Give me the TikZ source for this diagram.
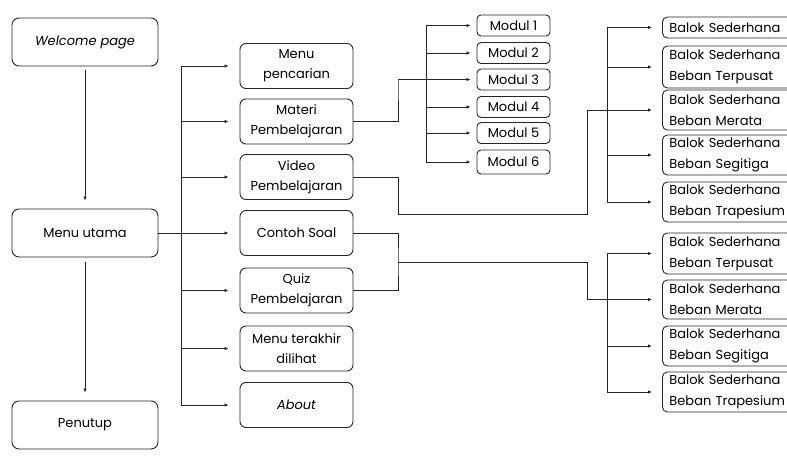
\documentclass[tikz,border=0pt]{standalone}
\usepackage{fontspec}
\setmainfont{Poppins}
\usetikzlibrary{arrows.meta,calc}
\begin{document}
\begin{tikzpicture}[x=1pt,y=-1pt,
  ln/.style={draw=black!85, line width=0.9pt},
  arr/.style={ln, -{Latex[length=4pt,width=3.5pt]}},
  bigbox/.style={ln, rounded corners=7pt, minimum width=146pt, minimum height=48pt, inner sep=0pt, align=center, font=\fontsize{13}{20}\selectfont},
  midbox/.style={ln, rounded corners=6pt, minimum width=113pt, minimum height=45pt, inner sep=0pt, align=center, font=\fontsize{13}{20}\selectfont},
  modbox/.style={ln, rounded corners=4pt, minimum width=73pt, minimum height=21pt, inner sep=0pt, align=center, font=\fontsize{13}{14}\selectfont},
  balbox/.style={ln, rounded corners=5pt, anchor=west, text width=130pt, inner xsep=7pt, inner ysep=0pt, align=left, font=\fontsize{13}{21}\selectfont},
]
\useasboundingbox (0,0) rectangle (787,466);
\clip (0,0) rectangle (787,466);

% left column
\node[bigbox] (welcome) at (85,42) {\itshape Welcome page};
\node[bigbox] (utama) at (85,233) {Menu utama};
\node[bigbox] (penutup) at (85,425) {Penutup};

% middle column
\node[midbox] (cari) at (296.5,66) {Menu\\pencarian};
\node[midbox] (materi) at (296.5,121.5) {Materi\\Pembelajaran};
\node[midbox] (video) at (296.5,177) {Video\\Pembelajaran};
\node[midbox] (contoh) at (296.5,233) {Contoh Soal};
\node[midbox] (quiz) at (296.5,290.5) {Quiz\\Pembelajaran};
\node[midbox] (akhir) at (296.5,348.5) {Menu terakhir\\dilihat};
\node[midbox] (about) at (296.5,405) {\itshape About};

% modules
\node[modbox] (m1) at (513.5,25.5) {Modul 1};
\node[modbox] (m2) at (513.5,53) {Modul 2};
\node[modbox] (m3) at (513.5,79.5) {Modul 3};
\node[modbox] (m4) at (513.5,107) {Modul 4};
\node[modbox] (m5) at (513.5,133) {Modul 5};
\node[modbox, minimum height=24pt] (m6) at (513.5,162) {Modul 6};

% right top column
\node[balbox, minimum height=21pt] (a1) at (662,27.5) {Balok Sederhana};
\node[balbox, minimum height=42pt] (a2) at (662,67) {Balok Sederhana\\Beban Terpusat};
\node[balbox, minimum height=40pt] (a3) at (662,110) {Balok Sederhana\\Beban Merata};
\node[balbox, minimum height=40pt] (a4) at (662,155) {Balok Sederhana\\Beban Segitiga};
\node[balbox, minimum height=40pt] (a5) at (662,202) {Balok Sederhana\\Beban Trapesium};

% right bottom column
\node[balbox, minimum height=41pt] (c1) at (662,253.5) {Balok Sederhana\\Beban Terpusat};
\node[balbox, minimum height=39pt] (c2) at (662,299.5) {Balok Sederhana\\Beban Merata};
\node[balbox, minimum height=40pt] (c3) at (662,346) {Balok Sederhana\\Beban Segitiga};
\node[balbox, minimum height=40pt] (c4) at (662,392) {Balok Sederhana\\Beban Trapesium};

% vertical flow
\draw[arr] ([yshift=-4pt]welcome.south) -- ([yshift=8pt]utama.north);
\draw[arr] ([yshift=-5pt]utama.south) -- ([yshift=8pt]penutup.north);

% main trunk
\coordinate (mt) at (181,66);
\draw[ln] (mt |- cari.west) -- (mt |- about.west);
\draw[ln] (utama.east) -- (mt |- utama.east);
\foreach \n in {cari,materi,video,contoh,quiz,akhir,about}
  \draw[arr] (mt |- \n.west) -- ([xshift=-11pt]\n.west);

% modules trunk
\coordinate (mk) at (426,25);
\draw[ln] (mk |- m1.west) -- (mk |- m6.west);
\foreach \n in {m1,m2,m4,m5,m6}
  \draw[arr] (mk |- \n.west) -- ([xshift=-6pt]\n.west);
\coordinate (mj) at (398,80);
\draw[arr] (materi.east) -| (mj) |- ([xshift=-6pt]m3.west);

% right top trunk
\coordinate (at) at (607,28);
\draw[ln] (at |- a1.west) -- (at |- a5.west);
\foreach \n in {a1,a2,a4,a5}
  \draw[arr] (at |- \n.west) -- ([xshift=-10pt]\n.west);
\coordinate (vj) at (398,214);
\coordinate (vk) at (587,214);
\draw[arr] (video.east) -| (vj) -- (vk) |- ([xshift=-10pt]a3.west);

% right bottom trunk
\coordinate (ct) at (607,253);
\draw[ln] (ct |- c1.west) -- (ct |- c4.west);
\foreach \n in {c1,c3,c4}
  \draw[arr] (ct |- \n.west) -- ([xshift=-10pt]\n.west);
\coordinate (cj) at (398,262);
\coordinate (ck) at (587,262);
\draw[ln] (contoh.east) -| (cj) |- (quiz.east);
\draw[arr] (cj) -- (ck) |- ([xshift=-10pt]c2.west);
\end{tikzpicture}
\end{document}
